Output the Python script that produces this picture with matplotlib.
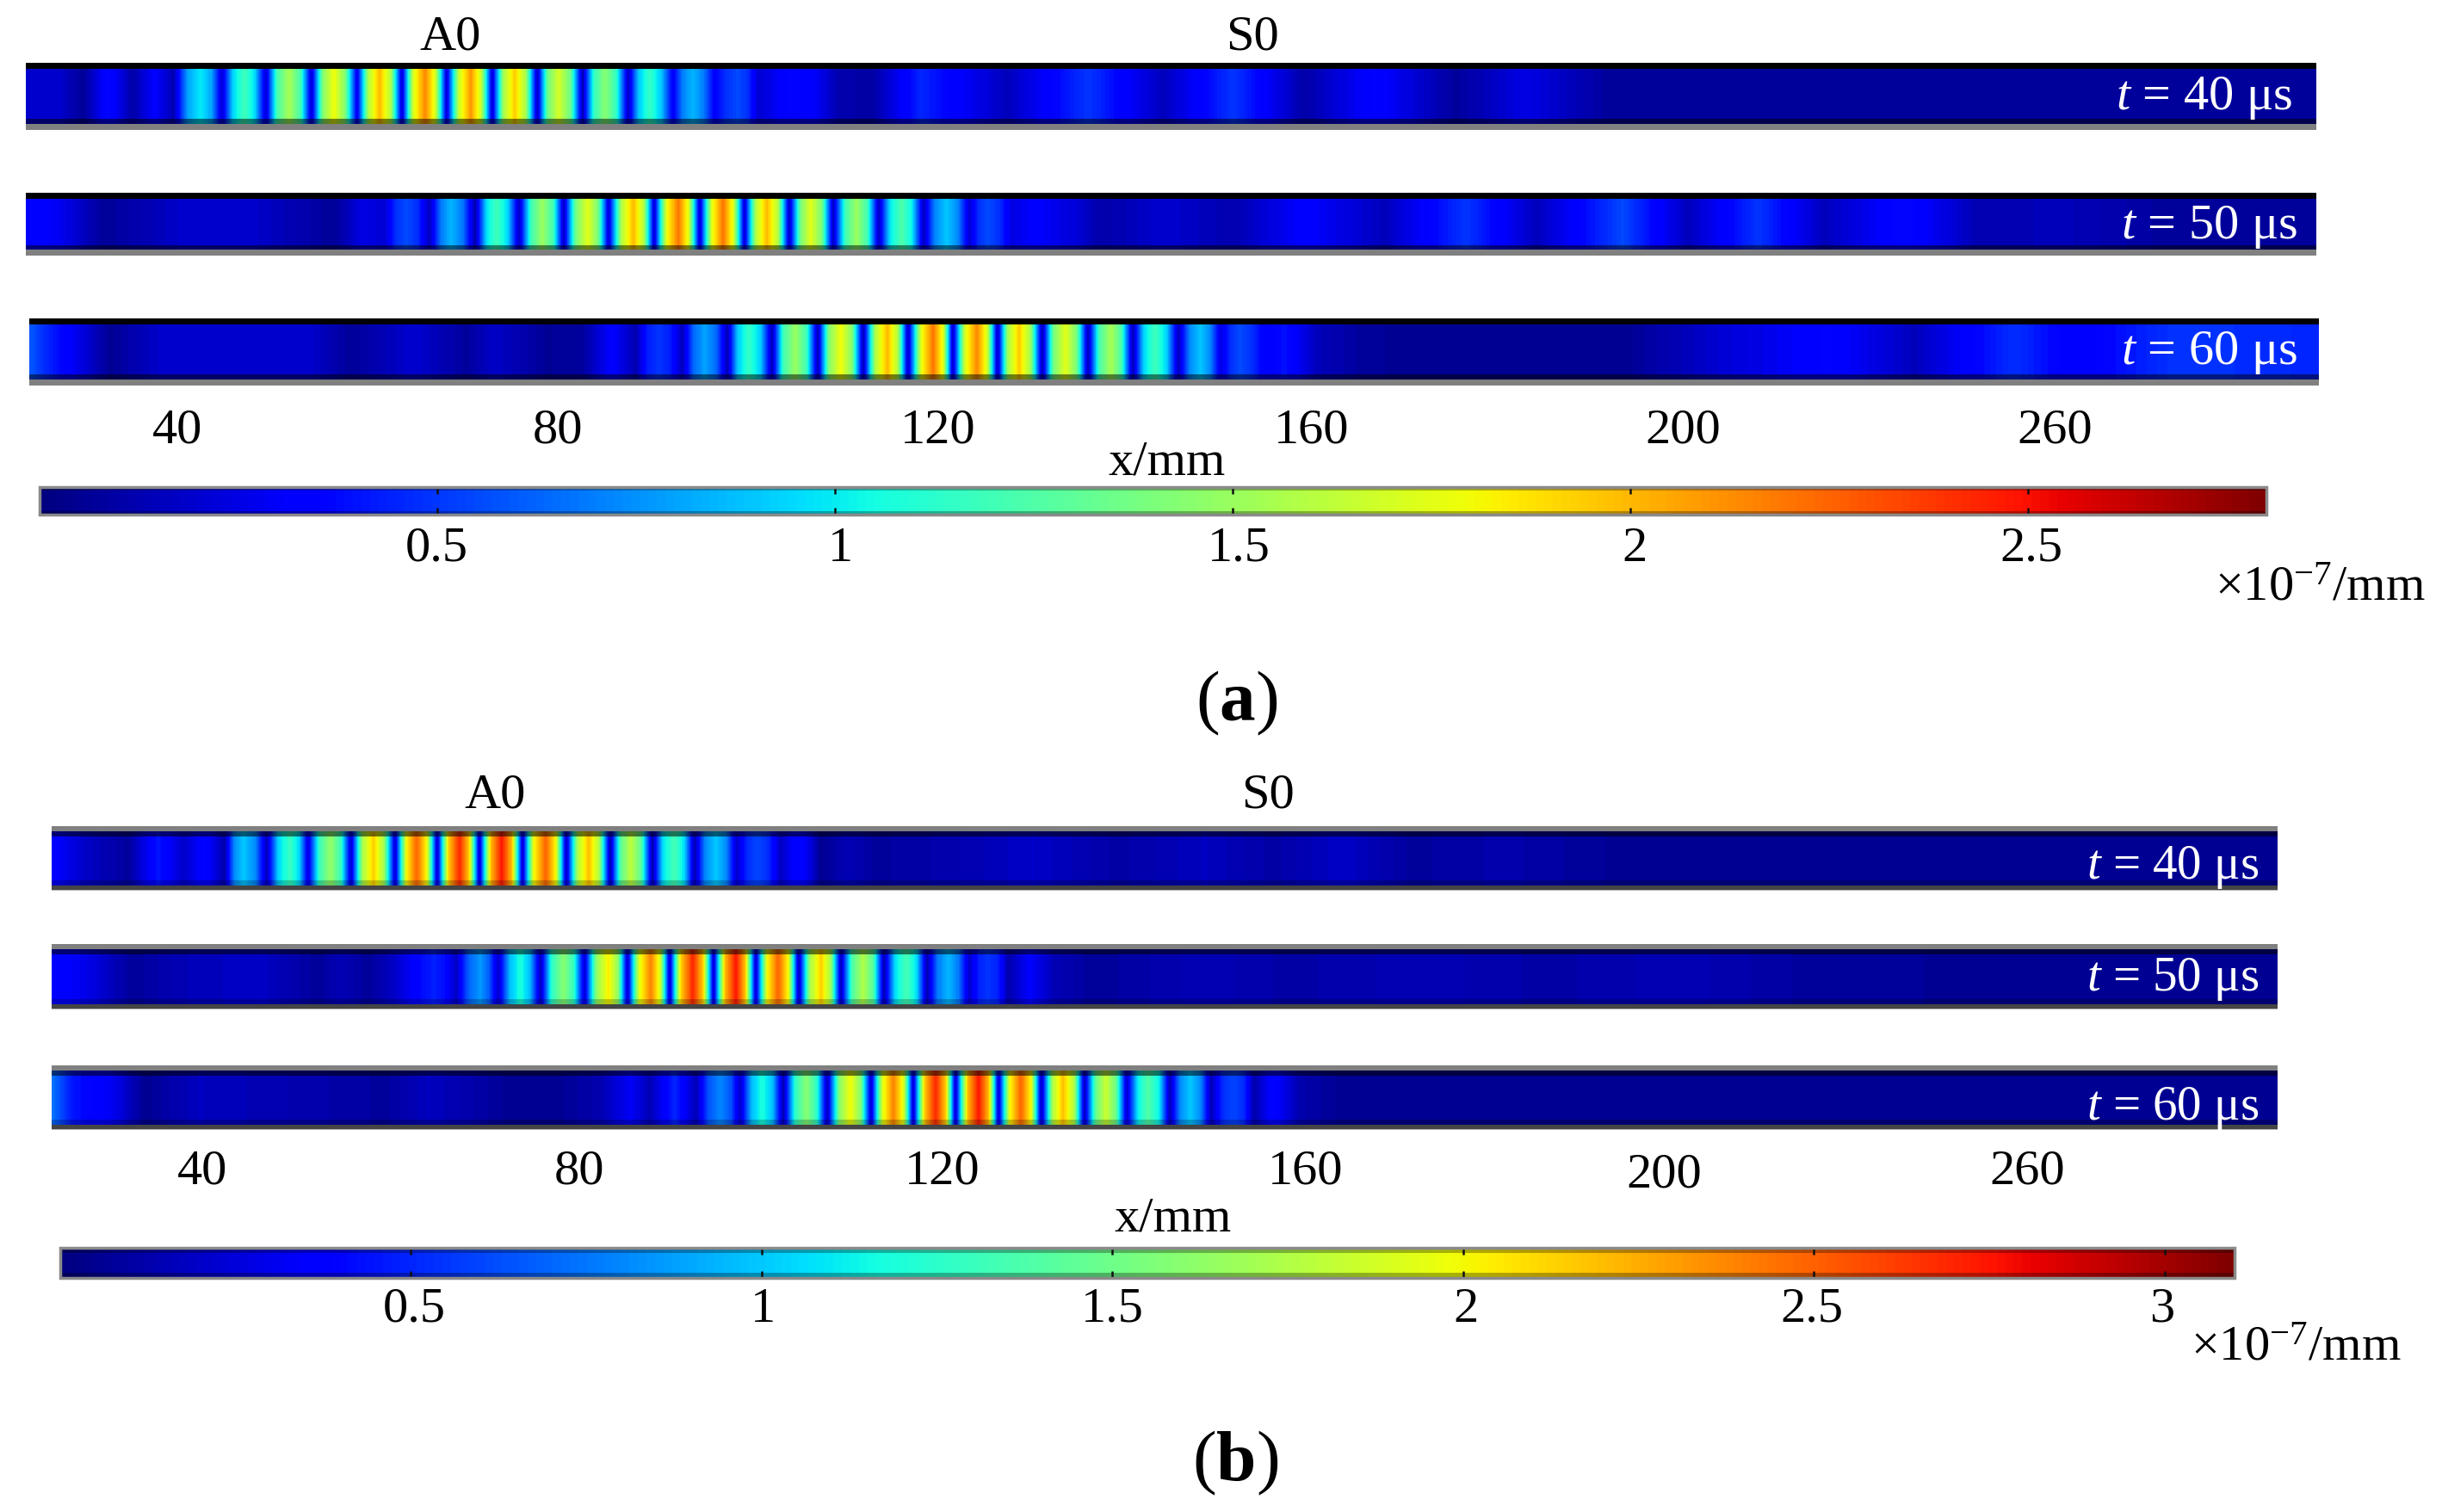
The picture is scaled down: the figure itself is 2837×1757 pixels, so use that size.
import matplotlib
matplotlib.use("Agg")
import matplotlib.pyplot as plt
import matplotlib.cm as cm
from matplotlib.colors import Normalize
import numpy as np

plt.rcParams['font.family'] = ['Liberation Serif', 'DejaVu Serif']
plt.rcParams['mathtext.fontset'] = 'custom'
plt.rcParams['mathtext.rm'] = 'Liberation Serif'
plt.rcParams['mathtext.it'] = 'Liberation Serif:italic'
plt.rcParams['mathtext.bf'] = 'Liberation Serif:bold'

W, H = 2837, 1758

### Data: position along the strip, then amplitude (x 10^-7 mm)
x_a1 = [30, 68, 97, 126, 154, 180, 202, 218, 233, 246, 258, 271, 284, 296, 309, 322, 336, 349, 362, 375, 388, 401,
        415, 428, 441, 454, 467, 480, 494, 506, 519, 533, 547, 559, 572, 585, 598, 611, 624, 636, 649, 663,
        677, 690, 703, 716, 730, 742, 755, 768, 782, 793, 805, 817, 830, 843, 857, 869, 881, 916, 942, 974, 1012,
        1070, 1170, 1264, 1351, 1433, 1515, 1597, 1691, 1773, 1873, 1937, 2691]
v_a1 = [.2, .2, .06, .38, .1, .33, .12, .8, 1.0, .8, .2, .95, 1.2, .95, .2, 1.22, 1.55, 1.22, .2, 1.42, 1.8, 1.42,
        .25, 1.58, 2.0, 1.58, .2, 1.7, 2.15, 1.7, .2, 1.66, 2.1, 1.66, .2, 1.54, 1.95, 1.54, .15, 1.34, 1.7, 1.34,
        .1, 1.15, 1.45, 1.15, .15, .91, 1.15, .91, .3, .7, .85, .7, .33, .48, .55, .48, .2, .35, .33, .12, .08,
        .45, .15, .5, .15, .5, .1, .35, .07, .25, .06, .08, .06]

x_a2 = [30, 70, 100, 121, 221, 300, 345, 389, 421, 447, 460, 472, 485, 499, 512, 524, 538, 552, 565, 577, 590, 603,
        617, 630, 643, 655, 669, 683, 695, 707, 722, 736, 748, 760, 774, 788, 800, 813, 827, 840, 852, 865,
        878, 891, 904, 917, 930, 942, 955, 968, 982, 995, 1008, 1021, 1034, 1047, 1060, 1073, 1086, 1100, 1113,
        1126, 1137, 1148, 1161, 1175, 1202, 1250, 1279, 1351, 1433, 1515, 1609, 1703, 1785, 1885, 1961, 2043,
        2119, 2213, 2300, 2394, 2500, 2691]
v_a2 = [.35, .28, .15, .06, .2, .18, .12, .06, .25, .2, .48, .55, .48, .15, .68, .85, .68, .1, .95, 1.2, .95, .15,
        1.19, 1.5, 1.19, .15, 1.38, 1.75, 1.38, .2, 1.58, 2.0, 1.58, .2, 1.74, 2.2, 1.74, .2, 1.74, 2.2, 1.74, .2,
        1.58, 2.0, 1.58, .15, 1.38, 1.75, 1.38, .15, 1.19, 1.5, 1.19, .15, .99, 1.25, .99, .15, .72, .9, .72,
        .2, .48, .55, .48, .25, .32, .22, .1, .2, .12, .33, .15, .5, .15, .55, .15, .5,
        .15, .38, .12, .15, .08, .06]

x_a3 = [34, 55, 75, 128, 191, 255, 357, 408, 480, 542, 574, 638, 650, 675, 711, 739, 752, 765, 779, 793, 806, 819, 832,
        845, 857, 870, 884, 897, 910, 924, 937, 950, 963, 977, 990, 1003, 1017, 1031, 1043, 1055, 1070, 1084, 1096,
        1107, 1121, 1135, 1147, 1159, 1171, 1184, 1197, 1211, 1224, 1238, 1251, 1264, 1277, 1291, 1303, 1316,
        1329, 1342, 1355, 1369, 1382, 1395, 1406, 1418, 1430, 1441, 1455, 1470, 1492, 1530, 1575, 1626, 1750,
        1890, 1996, 2125, 2225, 2340, 2410, 2530, 2694]
v_a3 = [.6, .45, .35, .05, .2, .18, .2, .06, .2, .07, .18, .05, .08, .06, .33, .12, .42, .5, .42, .15, .64, .8, .64,
        .12, .91, 1.15, .91, .12, 1.19, 1.5, 1.19, .12, 1.42, 1.8, 1.42, .12, 1.58, 2.0, 1.58, .15, 1.74, 2.2, 1.74,
        .15, 1.7, 2.15, 1.7, .15, 1.54, 1.95, 1.54, .12, 1.38, 1.75, 1.38, .12, 1.22, 1.55, 1.22, .12,
        .95, 1.2, .95, .15, .72, .9, .72, .25, .48, .55, .48, .3, .4, .15, .08, .05, .06,
        .05, .2, .35, .15, .48, .3, .5, .45]

x_b1 = [60, 98, 149, 184, 213, 239, 261, 272, 283, 297, 310, 323, 337, 348, 358, 371, 384, 396, 408, 421, 434, 446,
        459, 472, 484, 496, 508, 521, 534, 545, 557, 570, 583, 595, 607, 620, 634, 646, 658, 671, 684, 696,
        709, 721, 733, 745, 758, 770, 783, 795, 807, 819, 832, 844, 856, 868, 880, 893, 907, 919, 931, 942,
        953, 985, 1017, 1100, 1200, 1300, 1400, 1480, 1560, 1640, 1750, 1900, 2646]
v_b1 = [.38, .2, .08, .45, .2, .4, .12, .8, 1.0, .8, .15, 1.03, 1.3, 1.03, .25, 1.3, 1.65, 1.3, .2, 1.7, 2.15, 1.7,
        .2, 1.98, 2.5, 1.98, .2, 2.13, 2.7, 2.13, .2, 2.17, 2.75, 2.17, .2, 1.98, 2.5, 1.98, .15, 1.74, 2.2, 1.74,
        .12, 1.42, 1.8, 1.42, .1, 1.07, 1.35, 1.07, .12, .8, 1.0, .8, .2, .52, .6, .52, .18, .33, .38, .25,
        .05, .15, .08, .12, .2, .1, .18, .1, .2, .08, .12, .05, .05]

x_b2 = [60, 98, 154, 210, 300, 370, 396, 428, 459, 490, 504, 517, 530, 544, 558, 568, 579, 592, 605, 616, 628,
        641, 655, 667, 679, 693, 707, 718, 729, 742, 756, 767, 778, 791, 805, 817, 829, 842, 855, 866, 878,
        891, 904, 916, 928, 941, 954, 965, 977, 990, 1003, 1015, 1027, 1040, 1053, 1065, 1077, 1089, 1102, 1114,
        1126, 1137, 1148, 1160, 1171, 1196, 1225, 1269, 1400, 1500, 1650, 1800, 1950, 2100, 2300, 2646]
v_b2 = [.38, .3, .07, .15, .2, .07, .15, .07, .2, .42, .48, .42, .18, .68, .85, .68, .2, .95, 1.2, .95, .15,
        1.26, 1.6, 1.26, .2, 1.62, 2.05, 1.62, .2, 1.9, 2.4, 1.9, .2, 2.13, 2.7, 2.13, .2, 2.17, 2.75, 2.17, .2,
        1.98, 2.5, 1.98, .15, 1.7, 2.15, 1.7, .15, 1.38, 1.75, 1.38, .12, 1.07, 1.35, 1.07, .12, .75, .95, .75,
        .2, .48, .55, .48, .12, .35, .15, .07, .15, .1, .15, .1, .15, .08, .06, .05]

x_b3 = [60, 84, 133, 168, 231, 449, 498, 596, 650, 695, 733, 755, 784, 809, 823, 837, 849, 860, 873, 886, 898,
        910, 924, 937, 949, 961, 975, 988, 1000, 1012, 1025, 1038, 1050, 1061, 1074, 1087, 1099, 1110, 1124, 1137, 1149,
        1160, 1173, 1186, 1198, 1210, 1223, 1235, 1248, 1260, 1273, 1285, 1297, 1309, 1322, 1334, 1347,
        1359, 1371, 1383, 1395, 1407, 1420, 1433, 1445, 1457, 1479, 1511, 1556, 1700, 2000, 2646]
v_b3 = [.75, .45, .3, .05, .18, .08, .18, .05, .06, .12, .33, .15, .5, .15, .64, .8, .64, .2, .95, 1.2, .95,
        .12, 1.26, 1.6, 1.26, .15, 1.58, 2.0, 1.58, .2, 1.9, 2.4, 1.9, .2, 2.13, 2.7, 2.13, .2, 2.17, 2.75, 2.17,
        .2, 1.98, 2.5, 1.98, .15, 1.74, 2.2, 1.74, .15, 1.46, 1.85, 1.46, .2, 1.11, 1.4, 1.11,
        .15, .8, 1.0, .8, .15, .52, .6, .52, .12, .4, .12, .06, .06, .05, .05]

max_a = 2.8
max_b = 3.1
ticks_a = [0.5, 1, 1.5, 2, 2.5]
ticks_b = [0.5, 1, 1.5, 2, 2.5, 3]
x_labels = ["40", "80", "120", "160", "200", "260"]
times = ["40", "50", "60"]

fig = plt.figure(figsize=(W/100, H/100), dpi=100, facecolor='white')


def box(x0, y0, x1, y1):
    return [x0/W, 1-y1/H, (x1-x0)/W, (y1-y0)/H]


def label(x, y, s, size=42, color='black', ha='center'):
    fig.text(x/W, 1-y/H, s, fontsize=size, color=color, ha=ha, va='baseline')


def strip(x, v, vmax, y0, y1, bands):
    x = np.array(x, dtype=float)
    ax = fig.add_axes(box(x[0], y0, x[-1], y1))
    levels = np.linspace(0, vmax, 141)
    ax.contourf(x, [0, 1], np.vstack([v, v]), levels=levels, cmap='jet', extend='both')
    for lo, hi, colour, alpha in bands:
        ax.axhspan(lo, hi, color=colour, alpha=alpha, lw=0)
    ax.set_xlim(x[0], x[-1])
    ax.set_ylim(0, 1)
    ax.axis('off')


def colorbar(vmax, ticks, x0, y0, x1, y1, band):
    cax = fig.add_axes(box(x0, y0, x1, y1))
    cb = fig.colorbar(cm.ScalarMappable(Normalize(0, vmax), 'jet'), cax=cax, orientation='horizontal', ticks=ticks)
    cb.set_ticklabels([f"{t:g}" for t in ticks])
    cb.outline.set_edgecolor('#8a8a8a')
    cb.outline.set_linewidth(2.5)
    cax.axhspan(0, band, color='black', alpha=0.3, lw=0)
    cax.axhspan(1-band, 1, color='black', alpha=0.3, lw=0)
    cax.tick_params(axis='x', direction='in', top=True, bottom=True, length=6, width=1.8, color='#101010',
                    labelbottom=False)
    return cb


## (a)
bands_a = [(0, .09, '#808080', 1), (.09, .167, 'black', .5), (.91, 1, 'black', 1)]
strip(x_a1, v_a1, max_a, 74, 152, bands_a)
strip(x_a2, v_a2, max_a, 225, 298, bands_a)
strip(x_a3, v_a3, max_a, 371, 449, bands_a)
colorbar(max_a, ticks_a, 46, 567, 2633, 599, .12)

label(523, 58, "A0")
label(1455, 58, "S0")
for s, xp in zip(x_labels, [206, 648, 1090, 1524, 1955, 2387]):
    label(xp, 515, s)
label(1356, 551, "x/mm")
for t, xp in zip(ticks_a, [507, 976, 1439, 1899, 2360]):
    label(xp, 652, f"{t:g}")
label(2695, 698, r"$\times$10$^{-7}$/mm")
label(1437, 837, r"($\mathbf{a}$)", size=60)
for s, xp, yp in zip(times, [2458, 2464, 2464], [127, 277, 423]):
    label(xp, yp, r"$\mathit{t}$ = " + s + " μs", size=42, color='white', ha='left')

## (b)
bands_b = [(0, .013, '#b0b0b0', 1), (.013, .08, '#454545', 1), (.08, .16, 'black', .22),
           (.84, .92, 'black', .55), (.92, 1, '#808080', 1)]
strip(x_b1, v_b1, max_b, 961, 1036, bands_b)
strip(x_b2, v_b2, max_b, 1098, 1174, bands_b)
strip(x_b3, v_b3, max_b, 1239, 1314, bands_b)
colorbar(max_b, ticks_b, 70, 1451, 2596, 1486, .16)

label(575, 939, "A0")
label(1473, 939, "S0")
for s, xp, yp in zip(x_labels, [235, 673, 1095, 1517, 1933, 2355], [1376, 1376, 1376, 1376, 1380, 1376]):
    label(xp, yp, s)
label(1363, 1431, "x/mm")
for t, xp in zip(ticks_b, [481, 886, 1292, 1703, 2105, 2512]):
    label(xp, 1536, f"{t:g}")
label(2667, 1581, r"$\times$10$^{-7}$/mm")
label(1435, 1720, r"($\mathbf{b}$)", size=60)
for s, yp in zip(times, [1021, 1151, 1301]):
    label(2424, yp, r"$\mathit{t}$ = " + s + " μs", size=41, color='white', ha='left')

fig.savefig("out.png", dpi=100)
